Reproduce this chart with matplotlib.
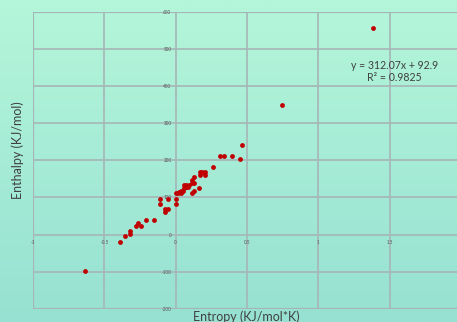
import numpy as np
import matplotlib
matplotlib.use("Agg")
import matplotlib.pyplot as plt
from matplotlib.colors import LinearSegmentedColormap

# Data
entropy = [1.38, 0.746, 0.466, 0.313, 0.336, 0.392, 0.448, 0.261, 0.187, 0.205,
           0.205, 0.168, 0.131, 0.112, 0.131, 0.112, 0.163, 0.131, 0.112,
           0.056, 0.075, 0.093, 0.056, 0.037, 0.019, 0.0, 0.037, 0.0, 0.0,
           -0.056, -0.112, -0.112, -0.075, -0.056, -0.075, -0.149, -0.205,
           -0.261, -0.28, -0.243, -0.317, -0.317, -0.354, -0.392, -0.634,
           0.168, 0.087, 0.075, 0.048, 0.026]
enthalpy = [557.6, 348.6, 240.5, 211.6, 211.6, 211.6, 204.0, 182.7, 168.4, 168.4,
            161.0, 161.0, 154.0, 146.8, 139.5, 139.5, 125.0, 117.8, 110.8,
            132.4, 132.4, 132.4, 125.0, 117.8, 110.8, 110.8, 110.8, 96.2, 82.0,
            96.0, 96.0, 82.0, 67.6, 67.6, 60.3, 38.6, 38.6,
            31.4, 24.3, 24.3, 9.7, 2.7, -4.6, -19.0, -98.4,
            168.4, 128.0, 128.0, 118.0, 114.0]
x_ticks = [-1, -0.5, 0, 0.5, 1, 1.5]
x_tick_labels = ["-1", "-0.5", "0", "0.5", "1", "1.5"]
y_ticks = [-200, -100, 0, 100, 200, 300, 400, 500, 600]
y_tick_labels = ["-200", "-100", "0", "100", "200", "300", "400", "500", "600"]
eq_text = "y = 312.07x + 92.9\nR² = 0.9825"

plt.rcParams['font.family'] = ['Lato', 'DejaVu Sans']

fig = plt.figure(figsize=(4.57, 3.22), dpi=100)

# gradient background
bg = fig.add_axes([0, 0, 1, 1], zorder=-10)
cmap = LinearSegmentedColormap.from_list("bg", ["#97e1d2", "#b4f6da"])
grad = np.linspace(0, 1, 256).reshape(-1, 1)
bg.imshow(grad, aspect='auto', cmap=cmap, origin='lower', extent=[0, 1, 0, 1])
bg.set_axis_off()

grid_c = "#a6b6b6"
ax = fig.add_axes([33/457, (322-308.7)/322, (461-33)/457, (308.7-12)/322])
ax.patch.set_alpha(0)
ax.set_xlim(-1, 2)
ax.set_ylim(-200, 600)
ax.set_xticks(x_ticks)
ax.set_xticklabels(x_tick_labels)
ax.set_yticks(y_ticks)
ax.set_yticklabels(y_tick_labels)
ax.grid(True, color=grid_c, linewidth=1.2)
for s in ['top', 'right']:
    ax.spines[s].set_visible(False)
ax.spines['left'].set_position(('data', 0))
ax.spines['bottom'].set_position(('data', 0))
ax.spines['left'].set_visible(False)
ax.spines['bottom'].set_visible(False)
# frame lines at the limits
ax.axvline(-1, color=grid_c, linewidth=1.6, zorder=0.5)
ax.axhline(-200, color=grid_c, linewidth=1.6, zorder=0.5)
ax.axhline(600, color=grid_c, linewidth=1.6, zorder=0.5)
ax.tick_params(axis='both', length=0, labelsize=3.3, colors="#555555")
ax.tick_params(axis='x', pad=4)
ax.tick_params(axis='y', pad=3)

ax.scatter(entropy, enthalpy, s=12, color="#c00000", zorder=3, linewidths=0)

ax.text(1.535, 440, eq_text, ha='center', va='center', fontsize=7.6, color="#404040",
        linespacing=1.05)

ax.set_xlabel("Entropy (KJ/mol*K)", fontsize=9, color="#404040")
ax.xaxis.set_label_coords((246 - 33) / 428, (308.7 - 310.5) / 296.7)
ax.set_ylabel("Enthalpy (KJ/mol)", fontsize=9, color="#404040")
ax.yaxis.set_label_coords((24 - 33) / 428, (308.7 - 150) / 296.7)

fig.savefig("out.png", dpi=100)
